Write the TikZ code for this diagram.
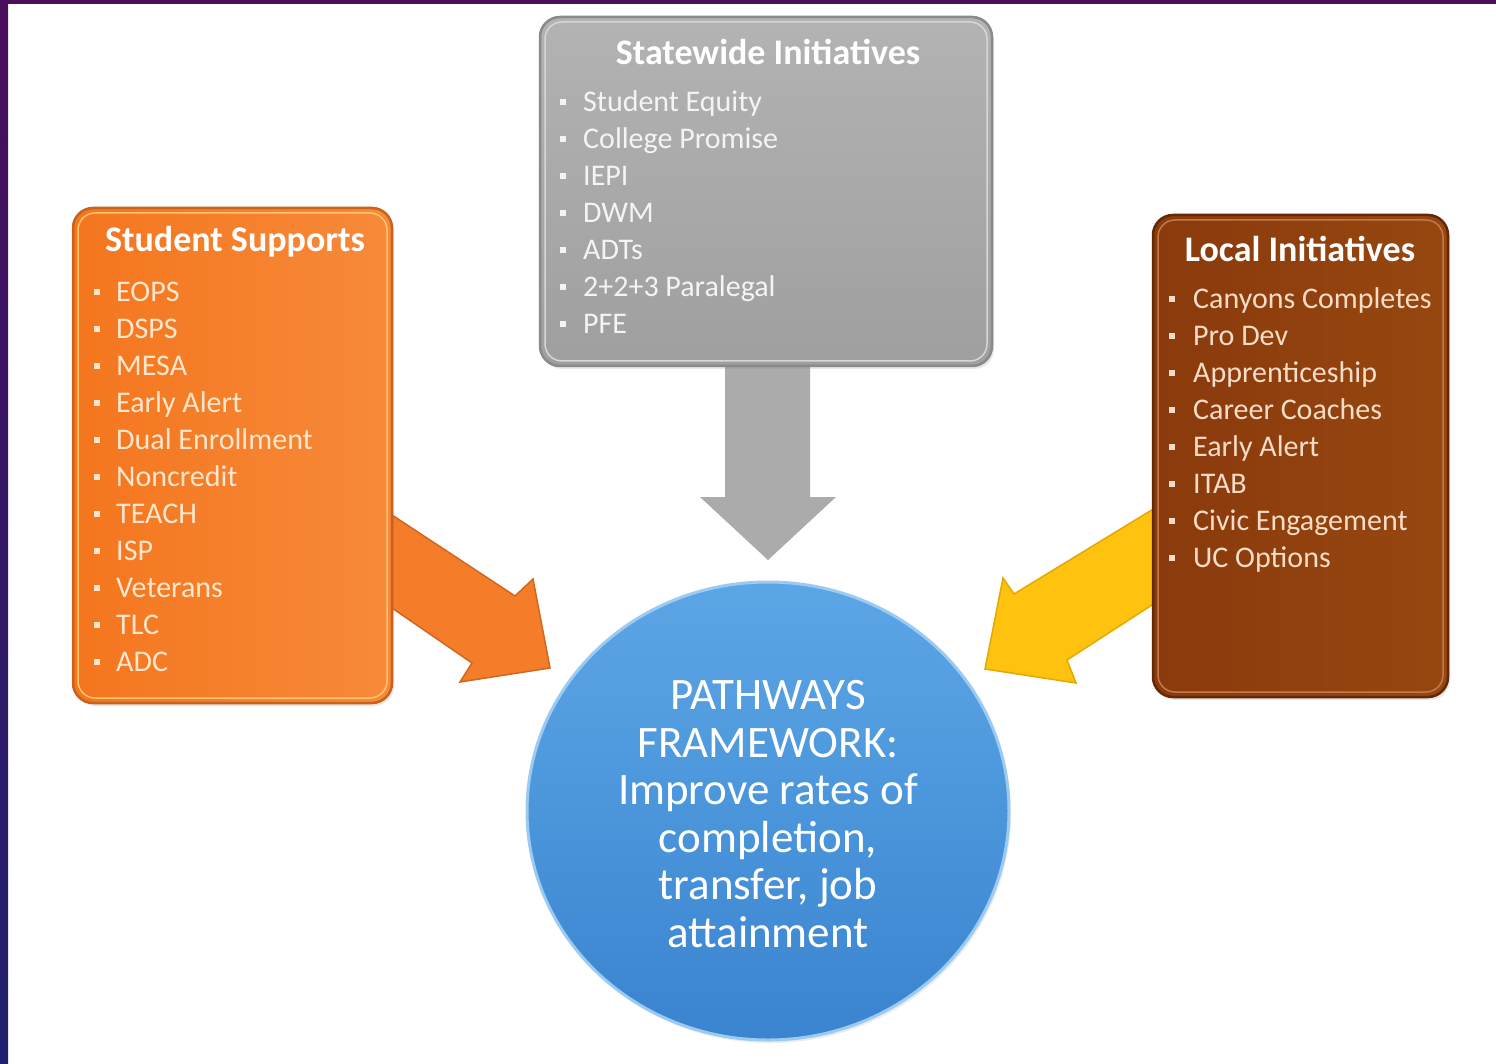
\documentclass[tikz,border=0pt]{standalone}
\usepackage{fontspec}
\setmainfont{Carlito}
\usetikzlibrary{shadows}
\definecolor{stripPurple}{HTML}{4A0E5C}
\definecolor{stripNavy}{HTML}{1F216E}
\definecolor{ssFillA}{HTML}{F4761E}
\definecolor{ssFillB}{HTML}{F78A3A}
\definecolor{ssLine}{HTML}{C9621C}
\definecolor{ssGlow}{HTML}{FFC46E}
\definecolor{ssItem}{HTML}{FFE6CC}
\definecolor{swFillA}{HTML}{B3B3B3}
\definecolor{swFillB}{HTML}{9F9F9F}
\definecolor{swLine}{HTML}{8A8A8A}
\definecolor{swGlow}{HTML}{D6D6D6}
\definecolor{swItem}{HTML}{F4F4F4}
\definecolor{liFillA}{HTML}{8A3A0C}
\definecolor{liFillB}{HTML}{97470F}
\definecolor{liLine}{HTML}{642806}
\definecolor{liGlow}{HTML}{C27A4A}
\definecolor{liItem}{HTML}{F7DCC8}
\definecolor{arGray}{HTML}{ABABAB}
\definecolor{arOrange}{HTML}{F57D2A}
\definecolor{arOrangeLine}{HTML}{D0671F}
\definecolor{arYellow}{HTML}{FFC20E}
\definecolor{arYellowLine}{HTML}{E5A800}
\definecolor{cirTop}{HTML}{5CA6E6}
\definecolor{cirBot}{HTML}{3A84D0}
\definecolor{cirRing}{HTML}{9CCBF2}
\tikzset{
  panel/.style={rounded corners=20pt, line width=2.5pt, inner sep=0pt,
    drop shadow={opacity=0.18, shadow xshift=2pt, shadow yshift=-3pt}},
  ssbox/.style={panel, draw=ssLine, left color=ssFillA, right color=ssFillB},
  swbox/.style={panel, draw=swLine, top color=swFillA, bottom color=swFillB},
  libox/.style={panel, draw=liLine, left color=liFillA, right color=liFillB},
  ptitle/.style={font=\fontsize{36}{40}\selectfont\bfseries, text=white, inner sep=0pt},
  pitem/.style={font=\fontsize{30}{34}\selectfont, anchor=base west, inner sep=0pt},
  hub/.style={ellipse, minimum width=482pt, minimum height=458pt,
    top color=cirTop, bottom color=cirBot, draw=cirRing, line width=3pt,
    drop shadow={opacity=0.15, shadow xshift=2pt, shadow yshift=-3pt}},
  hubtext/.style={font=\fontsize{45}{47.5}\selectfont, text=white, align=center, inner sep=0pt}
}
\usetikzlibrary{shapes.geometric}
\begin{document}
\begin{tikzpicture}[x=1pt,y=-1pt]
\useasboundingbox (0,0) rectangle (1496,1064);
\fill[white] (0,0) rectangle (1496,1064);
\shade[top color=stripPurple, bottom color=stripNavy] (0,0) rectangle (8,1064);
\fill[stripPurple] (0,0) rectangle (1496,4);

% block arrows
\fill[arGray] (725,360) -- (725,497) -- (700,497) -- (768,560) -- (836,497) -- (810,497) -- (810,360) -- cycle;
\filldraw[fill=arOrange, draw=arOrangeLine, line width=1.5pt, line join=miter]
  (392,515) -- (515,596) -- (533,579) -- (550,668) -- (460,682) -- (472,663) -- (392,608) -- cycle;
\filldraw[fill=arYellow, draw=arYellowLine, line width=1.5pt, line join=miter]
  (1155,508) -- (1014,594) -- (1003,578) -- (985,669) -- (1076,683) -- (1067,660) -- (1155,603) -- cycle;

% panels
\node[ssbox, minimum width=319pt, minimum height=495pt] (ss) at (232.5,455.5) {};
\draw[ssGlow, line width=1.5pt, rounded corners=17pt] (78,213) rectangle (387,698);
\node[swbox, minimum width=452pt, minimum height=349pt] (sw) at (766,191.5) {};
\draw[swGlow, line width=1.5pt, rounded corners=17pt] (545,22) rectangle (987,361);
\node[libox, minimum width=295pt, minimum height=482pt] (li) at (1300.5,456) {};
\draw[liGlow, line width=1.5pt, rounded corners=17pt] (1158,220) rectangle (1443,692);

% titles
\node[ptitle] (ss-title) at (235,242) {Student Supports};
\node[ptitle] (sw-title) at (768,52) {Statewide Initiatives};
\node[ptitle] (li-title) at (1300,249) {Local Initiatives};

% items
\foreach \t [count=\i] in {EOPS,DSPS,MESA,Early Alert,Dual Enrollment,Noncredit,TEACH,ISP,Veterans,TLC,ADC}{
  \pgfmathsetmacro\yy{292+37*(\i-1)}
  \fill[ssItem] (94,{\yy-3}) rectangle (100,{\yy+3});
  \node[pitem, text=ssItem] (ss-\i) at (116,{\yy+9.5}) {\t};
}
\foreach \t [count=\i] in {Student Equity,College Promise,IEPI,DWM,ADTs,2+2+3 Paralegal,PFE}{
  \pgfmathsetmacro\yy{102+37*(\i-1)}
  \fill[swItem] (560,{\yy-3}) rectangle (566,{\yy+3});
  \node[pitem, text=swItem] (sw-\i) at (583,{\yy+9.5}) {\t};
}
\foreach \t [count=\i] in {Canyons Completes,Pro Dev,Apprenticeship,Career Coaches,Early Alert,ITAB,Civic Engagement,UC Options}{
  \pgfmathsetmacro\yy{299+37*(\i-1)}
  \fill[liItem] (1169,{\yy-3}) rectangle (1175,{\yy+3});
  \node[pitem, text=liItem] (li-\i) at (1193,{\yy+9.5}) {\t};
}

% hub
\node[hub] (hub) at (768,811) {};
\node[hubtext] (hub-text) at (768,814) {PATHWAYS\\FRAMEWORK:\\Improve rates of\\completion,\\transfer, job\\attainment};
\end{tikzpicture}
\end{document}
